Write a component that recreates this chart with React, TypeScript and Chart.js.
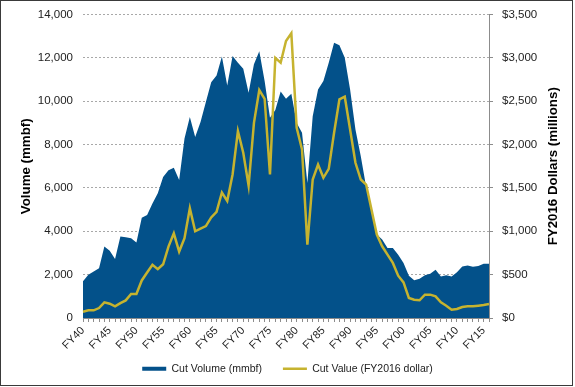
import React, { useEffect, useRef } from 'react';
import { Chart, registerables } from 'chart.js';

Chart.register(...registerables);

const FAMILY = "'Liberation Sans', Arial, sans-serif";

const years = [
  'FY40', 'FY41', 'FY42', 'FY43', 'FY44', 'FY45', 'FY46', 'FY47', 'FY48', 'FY49',
  'FY50', 'FY51', 'FY52', 'FY53', 'FY54', 'FY55', 'FY56', 'FY57', 'FY58', 'FY59',
  'FY60', 'FY61', 'FY62', 'FY63', 'FY64', 'FY65', 'FY66', 'FY67', 'FY68', 'FY69',
  'FY70', 'FY71', 'FY72', 'FY73', 'FY74', 'FY75', 'FY76', 'FY77', 'FY78', 'FY79',
  'FY80', 'FY81', 'FY82', 'FY83', 'FY84', 'FY85', 'FY86', 'FY87', 'FY88', 'FY89',
  'FY90', 'FY91', 'FY92', 'FY93', 'FY94', 'FY95', 'FY96', 'FY97', 'FY98', 'FY99',
  'FY00', 'FY01', 'FY02', 'FY03', 'FY04', 'FY05', 'FY06', 'FY07', 'FY08', 'FY09',
  'FY10', 'FY11', 'FY12', 'FY13', 'FY14', 'FY15', 'FY16',
];

// Cut Volume (mmbf)
const cutVolume = [
  1700, 2000, 2150, 2300, 3300, 3100, 2720, 3760, 3720, 3680,
  3480, 4620, 4750, 5280, 5750, 6500, 6820, 6930, 6360, 8280,
  9270, 8350, 9040, 9960, 10880, 11190, 12060, 10730, 12080, 11780,
  11500, 10390, 11700, 12300, 10930, 9240, 9600, 10450, 10110, 10340,
  9000, 8540, 6230, 9310, 10540, 10930, 11780, 12700, 12580, 12000,
  10540, 8700, 7460, 6050, 5000, 3850, 3620, 3230, 3230, 2920,
  2540, 1950, 1740, 1810, 1970, 2040, 2230, 1920, 1970, 1920,
  2110, 2380, 2420, 2360, 2400, 2500, 2500,
];

// Cut Value (FY2016 dollars, millions)
const cutValue = [
  73, 88, 88, 115, 180, 165, 134, 172, 203, 276,
  276, 433, 525, 613, 563, 620, 824, 977, 766, 920,
  1265, 1000, 1030, 1060, 1160, 1225, 1447, 1350, 1655, 2155,
  1905, 1527, 2250, 2628, 2528, 1655, 3000, 2944, 3194, 3283,
  2194, 1943, 846, 1597, 1770, 1617, 1720, 2136, 2521, 2552,
  2174, 1790, 1597, 1539, 1250, 962, 827, 731, 635, 488,
  411, 231, 211, 204, 269, 269, 250, 180, 142, 96,
  104, 127, 135, 135, 142, 150, 161,
];

const volumeTicks = { min: 0, max: 14000, step: 2000 };
const valueTicks = { min: 0, max: 3500, step: 500 };

const BLUE = '#03518a';
const GOLD = '#c6b32f';

const rightTitlePlugin = {
  id: 'rightTitle',
  afterDraw(chart: any) {
    const { ctx, chartArea } = chart;
    ctx.save();
    ctx.translate(552, (chartArea.top + chartArea.bottom) / 2);
    ctx.rotate(-Math.PI / 2);
    ctx.font = `bold 13.3px ${FAMILY}`;
    ctx.fillStyle = '#000';
    ctx.textAlign = 'center';
    ctx.textBaseline = 'middle';
    ctx.fillText('FY2016 Dollars (millions)', 0, 0);
    ctx.restore();
  },
};

export default function App() {
  const canvasRef = useRef<HTMLCanvasElement | null>(null);

  useEffect(() => {
    document.body.style.margin = '0';
    const canvas = canvasRef.current;
    if (!canvas) return;
    const chart = new Chart(canvas, {
      type: 'line',
      data: {
        labels: years,
        datasets: [
          {
            label: 'Cut Volume (mmbf)',
            data: cutVolume,
            yAxisID: 'y',
            fill: 'origin',
            backgroundColor: BLUE,
            borderColor: BLUE,
            borderWidth: 0,
            pointRadius: 0,
            pointStyle: 'rect',
            pointBackgroundColor: BLUE,
            pointBorderColor: BLUE,
            pointBorderWidth: 0,
            tension: 0,
            order: 2,
          },
          {
            label: 'Cut Value (FY2016 dollar)',
            data: cutValue,
            yAxisID: 'y1',
            fill: false,
            borderColor: GOLD,
            backgroundColor: GOLD,
            borderWidth: 2.5,
            pointRadius: 0,
            pointStyle: 'line',
            pointBackgroundColor: GOLD,
            pointBorderColor: GOLD,
            pointBorderWidth: 2.5,
            tension: 0,
            order: 1,
          },
        ],
      },
      options: {
        responsive: false,
        animation: false,
        devicePixelRatio: 1,
        layout: { padding: { top: 13.5, left: 2, right: 0, bottom: 1 } },
        plugins: {
          tooltip: { enabled: false },
          legend: {
            position: 'bottom',
            labels: {
              usePointStyle: true,
              pointStyleWidth: 24,
              boxHeight: 4,
              padding: 21,
              color: '#222',
              font: { size: 10.5, family: FAMILY },
              sort: (a: any, b: any) => a.datasetIndex - b.datasetIndex,
            },
          },
        },
        scales: {
          x: {
            type: 'category',
            offset: false,
            grid: { drawOnChartArea: false, drawTicks: true, tickLength: 4, color: '#8c8c8c' },
            border: { display: true, color: '#8c8c8c' },
            ticks: {
              autoSkip: false,
              minRotation: 45,
              maxRotation: 45,
              padding: 2,
              color: '#222',
              font: { size: 11, family: FAMILY },
              callback: (_v: any, i: number) => (i % 5 === 0 ? years[i] : ''),
            },
            afterFit: (s: any) => {
              s.height = 24.5;
              // let the rotated labels run below the (tight) axis box
              s._computeLabelArea = () => undefined;
            },
          },
          y: {
            position: 'left',
            min: volumeTicks.min,
            max: volumeTicks.max,
            ticks: {
              stepSize: volumeTicks.step,
              padding: 10,
              color: '#222',
              font: { size: 11.5, family: FAMILY, lineHeight: 0.6 },
              callback: (v: any) => Number(v).toLocaleString('en-US'),
            },
            grid: { color: '#a8a8a8', drawTicks: false, lineWidth: 1 },
            border: { display: false, dash: [2, 2] },
            title: {
              display: true,
              text: 'Volume (mmbf)',
              color: '#000',
              font: { size: 13.3, weight: 'bold', family: FAMILY },
              padding: { top: 15.5, bottom: 0 },
            },
            afterFit: (s: any) => {
              s.width = 80;
            },
          },
          y1: {
            position: 'right',
            min: valueTicks.min,
            max: valueTicks.max,
            ticks: {
              stepSize: valueTicks.step,
              padding: 9,
              color: '#222',
              font: { size: 11.5, family: FAMILY, lineHeight: 0.6 },
              callback: (v: any) => '$' + Number(v).toLocaleString('en-US'),
            },
            grid: { drawOnChartArea: false, drawTicks: true, tickLength: 4, color: '#8c8c8c' },
            border: { display: true, color: '#8c8c8c' },
            afterFit: (s: any) => {
              s.width = 83;
            },
          },
        },
      },
      plugins: [rightTitlePlugin],
    });
    return () => chart.destroy();
  }, []);

  return (
    <div
      style={{
        position: 'relative',
        width: 573,
        height: 386,
        boxSizing: 'border-box',
        border: '1px solid #3a3a3a',
        background: '#fff',
      }}
    >
      <canvas ref={canvasRef} width={571} height={384} style={{ display: 'block' }} />
    </div>
  );
}
